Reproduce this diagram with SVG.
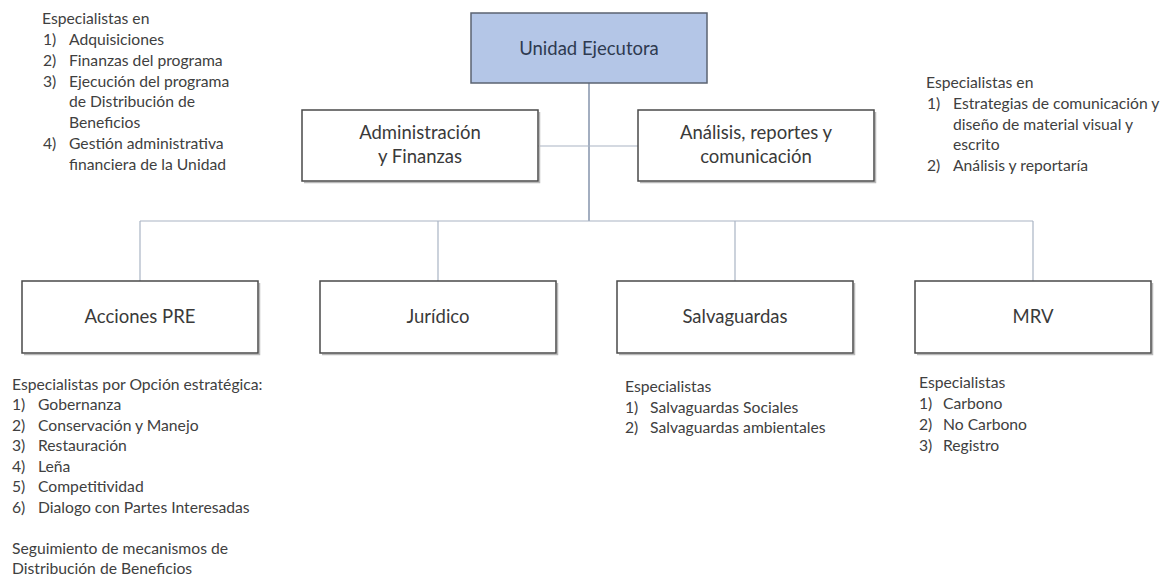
<svg xmlns="http://www.w3.org/2000/svg" width="1168" height="580" viewBox="0 0 1168 580">
<style>
.box{fill:#ffffff;stroke:#4a4a4a;stroke-width:1.5}
.shadow{fill:none;stroke:#b8b8b8;stroke-width:1.5}
.top{fill:#b4c6e7;stroke:#5b6372;stroke-width:1.5}
.lbl{font-family:Lato,"Open Sans",sans-serif;font-size:18.5px;fill:#3a3a3a;text-anchor:middle}
.lblTop{font-family:Lato,"Open Sans",sans-serif;font-size:18.5px;fill:#2e3a50;text-anchor:middle}
.note{font-family:Lato,"Open Sans",sans-serif;font-size:15.7px;fill:#404040}
.c1{stroke:#8493ab;stroke-width:1.5;fill:none}
.c2{stroke:#a9b4c4;stroke-width:1.2;fill:none}
</style>
<rect width="1168" height="580" fill="#ffffff"/>
<g id="connectors">
<line class="c1" x1="589" y1="83" x2="589" y2="221"/>
<line class="c2" x1="538" y1="146" x2="638" y2="146"/>
<line class="c2" x1="140" y1="221" x2="1033" y2="221"/>
<line class="c2" x1="140" y1="221" x2="140" y2="281"/>
<line class="c2" x1="438" y1="221" x2="438" y2="281"/>
<line class="c2" x1="735" y1="221" x2="735" y2="281"/>
<line class="c2" x1="1033" y1="221" x2="1033" y2="281"/>
</g>
<g id="unidad">
<rect class="top" x="471" y="13" width="236" height="70"/>
<text class="lblTop" x="589" y="55">Unidad Ejecutora</text>
</g>
<g id="admin">
<polyline class="shadow" points="304,182.5 539.5,182.5 539.5,112"/>
<rect class="box" x="302" y="110" width="236" height="71"/>
<text class="lbl" x="420" y="139">Administración</text>
<text class="lbl" x="420" y="163">y Finanzas</text>
</g>
<g id="analisis">
<polyline class="shadow" points="640,182.5 875.5,182.5 875.5,112"/>
<rect class="box" x="638" y="110" width="236" height="71"/>
<text class="lbl" x="756" y="139">Análisis, reportes y</text>
<text class="lbl" x="756" y="163">comunicación</text>
</g>
<g id="acciones">
<polyline class="shadow" points="24,354.5 259.5,354.5 259.5,283"/>
<rect class="box" x="22" y="281" width="236" height="72"/>
<text class="lbl" x="140" y="323">Acciones PRE</text>
</g>
<g id="juridico">
<polyline class="shadow" points="322,354.5 557.5,354.5 557.5,283"/>
<rect class="box" x="320" y="281" width="236" height="72"/>
<text class="lbl" x="438" y="323">Jurídico</text>
</g>
<g id="salvaguardas">
<polyline class="shadow" points="619,354.5 854.5,354.5 854.5,283"/>
<rect class="box" x="617" y="281" width="236" height="72"/>
<text class="lbl" x="735" y="323">Salvaguardas</text>
</g>
<g id="mrv">
<polyline class="shadow" points="917,354.5 1152.5,354.5 1152.5,283"/>
<rect class="box" x="915" y="281" width="236" height="72"/>
<text class="lbl" x="1033" y="323">MRV</text>
</g>
<g id="note-admin" class="note">
<text x="42" y="24">Especialistas en</text>
<text x="43" y="45">1)</text><text x="69" y="45">Adquisiciones</text>
<text x="43" y="66">2)</text><text x="69" y="66">Finanzas del programa</text>
<text x="43" y="87">3)</text><text x="69" y="87">Ejecución del programa</text>
<text x="69" y="107">de Distribución de</text>
<text x="69" y="128">Beneficios</text>
<text x="43" y="149">4)</text><text x="69" y="149">Gestión administrativa</text>
<text x="69" y="170">financiera de la Unidad</text>
</g>
<g id="note-analisis" class="note">
<text x="926" y="88">Especialistas en</text>
<text x="927" y="109">1)</text><text x="953" y="109">Estrategias de comunicación y</text>
<text x="953" y="130">diseño de material visual y</text>
<text x="953" y="150">escrito</text>
<text x="927" y="171">2)</text><text x="953" y="171">Análisis y reportaría</text>
</g>
<g id="note-acciones" class="note">
<text x="12" y="390">Especialistas por Opción estratégica:</text>
<text x="12" y="410">1)</text><text x="38" y="410">Gobernanza</text>
<text x="12" y="431">2)</text><text x="38" y="431">Conservación y Manejo</text>
<text x="12" y="451">3)</text><text x="38" y="451">Restauración</text>
<text x="12" y="472">4)</text><text x="38" y="472">Leña</text>
<text x="12" y="492">5)</text><text x="38" y="492">Competitividad</text>
<text x="12" y="513">6)</text><text x="38" y="513">Dialogo con Partes Interesadas</text>
<text x="12" y="554">Seguimiento de mecanismos de</text>
<text x="12" y="574">Distribución de Beneficios</text>
</g>
<g id="note-salvaguardas" class="note">
<text x="625" y="392">Especialistas</text>
<text x="625" y="413">1)</text><text x="650" y="413">Salvaguardas Sociales</text>
<text x="625" y="433">2)</text><text x="650" y="433">Salvaguardas ambientales</text>
</g>
<g id="note-mrv" class="note">
<text x="919" y="388">Especialistas</text>
<text x="919" y="409">1)</text><text x="943" y="409">Carbono</text>
<text x="919" y="430">2)</text><text x="943" y="430">No Carbono</text>
<text x="919" y="451">3)</text><text x="943" y="451">Registro</text>
</g>
</svg>
